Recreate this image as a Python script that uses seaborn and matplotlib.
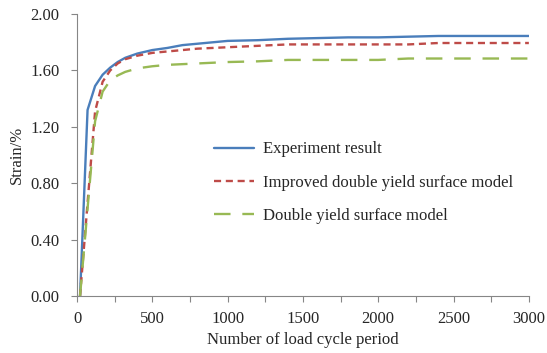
import matplotlib
matplotlib.use("Agg")
import matplotlib.pyplot as plt
import seaborn as sns
import pandas as pd

cycles = [20, 70, 120, 170, 220, 270, 320, 400, 500, 600, 700, 800, 900, 1000,
          1200, 1400, 1600, 1800, 2000, 2200, 2400, 2600, 2800, 3000]
experiment = [0.00, 1.32, 1.49, 1.57, 1.62, 1.66, 1.69, 1.72, 1.745, 1.76, 1.78, 1.79,
              1.80, 1.81, 1.815, 1.825, 1.83, 1.835, 1.835, 1.84, 1.845, 1.845, 1.845, 1.845]
improved = [0.00, 0.66, 1.31, 1.52, 1.60, 1.65, 1.68, 1.705, 1.725, 1.735, 1.745, 1.755,
            1.76, 1.765, 1.775, 1.785, 1.785, 1.785, 1.785, 1.785, 1.795, 1.795, 1.795, 1.795]
double = [0.00, 0.62, 1.24, 1.45, 1.53, 1.565, 1.59, 1.615, 1.63, 1.64, 1.645, 1.65,
          1.655, 1.66, 1.665, 1.675, 1.675, 1.675, 1.675, 1.685, 1.685, 1.685, 1.685, 1.685]
labels = ["Experiment result", "Improved double yield surface model", "Double yield surface model"]
x_ticks = [0, 250, 500, 750, 1000, 1250, 1500, 1750, 2000, 2250, 2500, 2750, 3000]
x_ticklabels = ["0", "", "500", "", "1000", "", "1500", "", "2000", "", "2500", "", "3000"]
y_ticks = [0.0, 0.4, 0.8, 1.2, 1.6, 2.0]

sns.set_style("white")
plt.rcParams["font.family"] = ["Liberation Serif", "DejaVu Serif"]

fig = plt.figure(figsize=(5.47, 3.53), dpi=100)
ax = fig.add_axes([0.1408, 0.1615, 0.826, 0.7985])

styles = [
    ("#4A7EBB", "-"),
    ("#BE4B48", (0, (3, 2))),
    ("#98B954", (0, (7, 5))),
]
for vals, lab, (col, ls) in zip([experiment, improved, double], labels, styles):
    df = pd.DataFrame({"x": cycles, "y": vals})
    sns.lineplot(data=df, x="x", y="y", ax=ax, color=col, linestyle=ls, lw=1.7, label=lab)

ax.set_xlim(0, 3000)
ax.set_ylim(0, 2.0)
ax.set_xticks(x_ticks)
ax.set_xticklabels(x_ticklabels)
ax.set_yticks(y_ticks)
ax.set_yticklabels([f"{v:.2f}" for v in y_ticks])
ax.set_xlabel("Number of load cycle period", fontsize=12, labelpad=4)
ax.set_ylabel("Strain/%", fontsize=12, labelpad=4)
ax.tick_params(axis="both", labelsize=12, length=4.5, width=0.8, color="#868686",
               direction="out", bottom=True, left=True)
ax.tick_params(axis="y", pad=8)
ax.tick_params(axis="x", pad=6)
for s in ["top", "right"]:
    ax.spines[s].set_visible(False)
for s in ["left", "bottom"]:
    ax.spines[s].set_color("#868686")
    ax.spines[s].set_linewidth(0.8)

ax.legend(loc="center left", bbox_to_anchor=(0.284, 0.402), frameon=False, fontsize=12,
          handlelength=2.4, handletextpad=0.55, labelspacing=1.04, borderpad=0)

fig.savefig("out.png", dpi=100)
